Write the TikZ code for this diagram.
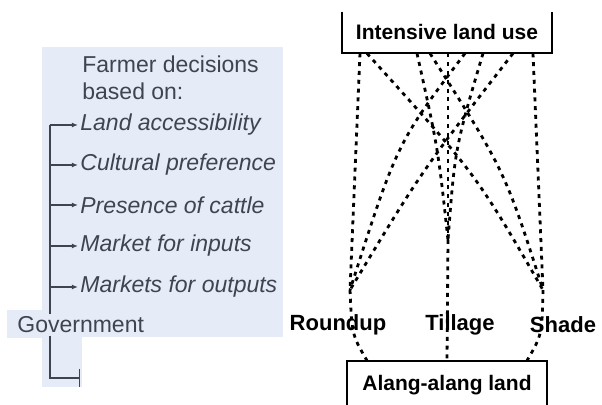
\documentclass[tikz,border=0pt]{standalone}
\usepackage{fontspec}
\setmainfont{Liberation Sans}
\usetikzlibrary{arrows.meta}
\definecolor{panel}{HTML}{E6ECF7}
\definecolor{ink}{HTML}{3F4550}
\begin{document}
\begin{tikzpicture}[x=0.5pt,y=-0.5pt,
	factor/.style={anchor=west, inner sep=1pt, text=ink, font=\fontsize{11.5}{13.5}\selectfont\itshape},
	plain/.style={anchor=west, inner sep=1pt, text=ink, font=\fontsize{11.5}{13.5}\selectfont},
	stem/.style={draw=ink, line width=0.7pt},
	branch/.style={stem, -{Latex[length=3pt,width=2.4pt]}},
	landbox/.style={minimum width=105pt, inner sep=0pt, font=\fontsize{10.5}{12}\selectfont\bfseries},
	method/.style={inner sep=0pt, font=\fontsize{11}{13}\selectfont\bfseries},
	dots/.style={line width=1.4pt, dash pattern=on 2pt off 2.4pt},
	side/.style={line width=1pt}]
	\useasboundingbox (0,0) rectangle (602,405);

	% shaded panel on the left
	\fill[panel] (42,47) rectangle (283,337);
	\fill[panel] (7,310) rectangle (42,338);
	\fill[panel] (42,337) rectangle (82,387);

	\node[plain, align=left] (head) at (80,78) {Farmer decisions\\based on:};
	\node[factor] (land) at (78,125) {Land accessibility};
	\node[factor] (cult) at (78,165) {Cultural preference};
	\node[factor] (cattle) at (78,205) {Presence of cattle};
	\node[factor] (inputs) at (78,246) {Market for inputs};
	\node[factor] (outputs) at (78,287) {Markets for outputs};
	\node[plain] (gov) at (15,325) {Government};

	\coordinate (trunk) at (50,0);
	\coordinate (govend) at (80,378);
	\draw[stem] (gov.north -| trunk) -- (land.west -| trunk);
	\foreach \f in {land,cult,cattle,inputs,outputs}
		\draw[branch] (\f.west -| trunk) -- (\f.west);
	\draw[stem, -{Bar[width=9pt]}] (gov.south -| trunk) |- (govend);

	% land use boxes
	\node[landbox, minimum height=20.5pt] (intensive) at (447,32.5) {Intensive land use};
	\draw[side] (intensive.north west) |- (intensive.south east) -- (intensive.north east);
	\node[landbox, minimum width=100pt, minimum height=24pt] (alang) at (447,385) {Alang-alang land};
	\draw[side] (alang.south west) |- (alang.north east) -- (alang.south east);

	\coordinate (ru) at (350,290);
	\coordinate (ti) at (448,240);
	\coordinate (sh) at (543,290);

	% dotted paths
	\draw[dots] ([xshift=-43.5pt]intensive.south) -- (ru);
	\draw[dots] ([xshift=9pt]intensive.south) .. controls (397,143) .. (ru);
	\draw[dots] ([xshift=33pt]intensive.south) .. controls (421,172) .. (ru);
	\draw[dots] ([xshift=-15pt]intensive.south) .. controls (438,148) .. (ti);
	\draw[dots] ([xshift=0.5pt]intensive.south) -- (ti);
	\draw[dots] ([xshift=18pt]intensive.south) .. controls (455,148) .. (ti);
	\draw[dots] ([xshift=-40pt]intensive.south) .. controls (476,174) .. (sh);
	\draw[dots] ([xshift=-8.5pt]intensive.south) .. controls (505,171) .. (sh);
	\draw[dots] ([xshift=43pt]intensive.south) -- (sh);

	\draw[dots] (ru) .. controls (352,335) .. ([xshift=-40pt]alang.north);
	\draw[dots] (ti) -- (alang.north);
	\draw[dots] (sh) .. controls (542,335) .. ([xshift=40pt]alang.north);

	\node[method] (roundup) at (338,325) {Roundup};
	\node[method] (tillage) at (460,325) {Tillage};
	\node[method] (shade) at (563,325) {Shade};
\end{tikzpicture}
\end{document}
